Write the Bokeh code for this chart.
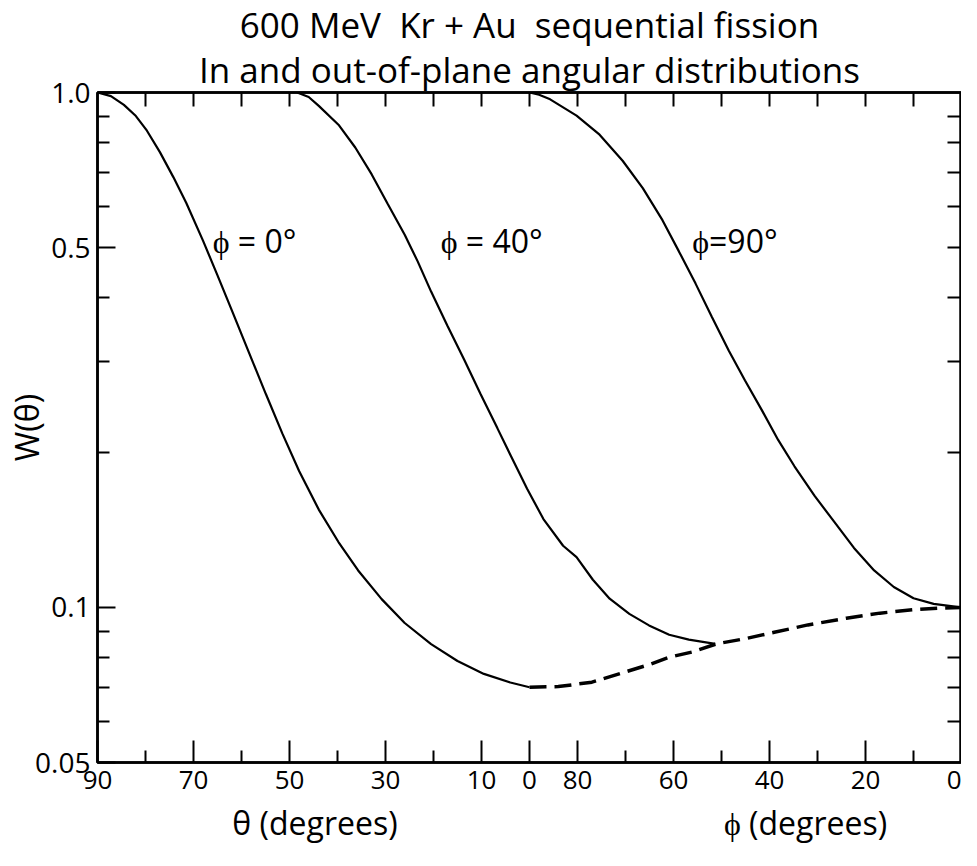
from bokeh.plotting import figure
from bokeh.models import Range1d, FixedTicker, LinearAxis, LogAxis, Title, Label
from bokeh.embed import file_html
from bokeh.resources import INLINE

FONT = "Open Sans"

# ---------------- data ----------------
# Abscissa: position (deg) along the combined axis: theta 90 -> 0, then phi 90 -> 0
x_tick_pos = [0, 20, 40, 60, 80, 90, 100, 120, 140, 160, 180]
x_tick_labels = ["90", "70", "50", "30", "10", "0", "80", "60", "40", "20", "0"]
x_minor_pos = [10, 30, 50, 70, 110, 130, 150, 170]

y_tick_vals = [0.05, 0.1, 0.5, 1.0]
y_tick_labels = ["0.05", "0.1", "0.5", "1.0"]
y_minor_vals = [0.06, 0.07, 0.08, 0.09, 0.2, 0.3, 0.4, 0.6, 0.7, 0.8, 0.9]

axis_titles = ["\u03b8 (degrees)", "\u03d5 (degrees)"]
curve_names = ["\u03d5 = 0\u00b0", "\u03d5 = 40\u00b0", "\u03d5=90\u00b0"]

phi0_x = [0, 2.8, 5.5, 8.0, 10.3, 13.0, 15.8, 18.5, 22.0, 25.0, 28.2, 31.6, 35.1,
          38.5, 42.0, 46.1, 50.2, 54.3, 59.2, 64.0, 69.5, 75.0, 80.5, 86.0, 90.0]
phi0_w = [1.0, 0.984, 0.946, 0.900, 0.843, 0.766, 0.685, 0.610, 0.515, 0.4416,
          0.3733, 0.3119, 0.2594, 0.2178, 0.1841, 0.1549, 0.1340, 0.1180, 0.1038,
          0.0933, 0.0849, 0.0787, 0.0743, 0.0715, 0.0700]

phi40_x = [41.6, 44.0, 46.1, 50.2, 53.7, 57.1, 60.5, 64.0, 66.7, 69.5, 72.9, 76.4,
           79.8, 83.3, 86.0, 89.5, 92.9, 97.0, 99.8, 103.2, 106.7, 110.8, 114.9,
           119.1, 123.2, 128.7]
phi40_w = [1.0, 0.98, 0.942, 0.866, 0.782, 0.694, 0.6065, 0.5295, 0.470, 0.4106,
           0.3525, 0.3027, 0.2598, 0.2230, 0.198, 0.170, 0.1485, 0.1318, 0.1253,
           0.1132, 0.104, 0.0972, 0.0923, 0.0885, 0.0866, 0.085]

phi90_x = [90.0, 92.0, 94.3, 99.8, 104.6, 109.4, 113.6, 117.7, 121.1, 124.6, 128.0,
           131.5, 134.9, 138.4, 141.8, 145.2, 149.4, 153.5, 157.6, 161.8, 165.9,
           170.0, 174.2, 180.0]
phi90_w = [1.0, 0.99, 0.970, 0.902, 0.828, 0.737, 0.652, 0.565, 0.492, 0.4255,
           0.3664, 0.3155, 0.276, 0.2417, 0.2115, 0.188, 0.1647, 0.1466, 0.1305,
           0.118, 0.1096, 0.1042, 0.1016, 0.100]

inplane_x = [90, 96, 103, 109, 115, 119, 124, 129, 135, 141, 148, 156, 163, 170, 175, 180]
inplane_w = [0.070, 0.0702, 0.0716, 0.0745, 0.0775, 0.080, 0.082, 0.085, 0.087,
             0.0895, 0.0925, 0.0953, 0.0975, 0.099, 0.0997, 0.100]

# ---------------- figure ----------------
p = figure(width=961, height=850, x_range=Range1d(0, 180), y_range=Range1d(0.05, 1.0),
           y_axis_type="log", output_backend="svg", toolbar_location=None, title=None,
           min_border_left=97, min_border_right=0, min_border_top=92, min_border_bottom=88,
           background_fill_color="white", border_fill_color="white")
p.outline_line_color = "black"
p.outline_line_width = 2.5
p.xgrid.visible = False
p.ygrid.visible = False

xa = p.xaxis[0]
xa.ticker = FixedTicker(ticks=x_tick_pos, minor_ticks=x_minor_pos)
xa.major_label_overrides = dict(zip(x_tick_pos, x_tick_labels))
ya = p.yaxis[0]
ya.ticker = FixedTicker(ticks=y_tick_vals, minor_ticks=y_minor_vals)
ya.major_label_overrides = dict(zip(y_tick_vals, y_tick_labels))

for ax, maj, mnr in ((xa, 22, 12), (ya, 18, 12)):
    ax.major_tick_in = maj
    ax.major_tick_out = 0
    ax.minor_tick_in = mnr
    ax.minor_tick_out = 0
    ax.major_tick_line_width = 2
    ax.minor_tick_line_width = 2
    ax.axis_line_width = 2.5
    ax.major_label_text_font = FONT
    ax.major_label_text_color = "black"
xa.major_label_text_font_size = "26px"
xa.major_label_standoff = 8
ya.major_label_text_font_size = "28px"
ya.major_label_standoff = 7
ya.axis_label = "W(\u03b8)"
ya.axis_label_text_font = FONT
ya.axis_label_text_font_size = "32px"
ya.axis_label_text_font_style = "normal"
ya.axis_label_text_color = "black"
ya.axis_label_standoff = -16

ra = LogAxis(ticker=FixedTicker(ticks=[], minor_ticks=y_minor_vals + [0.1, 0.5]))
ta = LinearAxis(ticker=FixedTicker(ticks=[], minor_ticks=sorted(x_tick_pos[1:-1] + x_minor_pos)))
for ax in (ra, ta):
    ax.minor_tick_in = 14
    ax.minor_tick_out = 0
    ax.minor_tick_line_width = 2
    ax.axis_line_width = 2.5
    ax.major_label_standoff = 0
p.add_layout(ra, "right")
p.add_layout(ta, "above")

# second bottom axis carrying the two abscissa titles
title_axis = LinearAxis(ticker=FixedTicker(ticks=[45.3, 147.5], minor_ticks=[]))
title_axis.major_label_overrides = {45.3: axis_titles[0], 147.5: axis_titles[1]}
title_axis.axis_line_color = None
title_axis.major_tick_line_color = None
title_axis.minor_tick_line_color = None
title_axis.major_tick_in = 0
title_axis.major_tick_out = 0
title_axis.major_label_standoff = 9
title_axis.major_label_text_font = FONT
title_axis.major_label_text_font_size = "32px"
title_axis.major_label_text_color = "black"
p.add_layout(title_axis, "below")

p.add_layout(Title(text="In and out-of-plane angular distributions", align="center",
                   text_font=FONT, text_font_size="35px", text_font_style="normal",
                   text_color="black", standoff=0), "above")
p.add_layout(Title(text="600 MeV\u00a0\u00a0Kr + Au\u00a0\u00a0sequential fission", align="center",
                   text_font=FONT, text_font_size="35px", text_font_style="normal",
                   text_color="black", standoff=-8), "above")

# ---------------- curves ----------------
for xs, ws in ((phi0_x, phi0_w), (phi40_x, phi40_w), (phi90_x, phi90_w)):
    p.line(xs, ws, line_color="black", line_width=2.2)
p.line(inplane_x, inplane_w, line_color="black", line_width=3.5, line_dash="17 8")

# curve labels
for name, lx in zip(curve_names, (24.0, 71.5, 123.9)):
    p.add_layout(Label(x=lx, y=0.515, text=name, text_font=FONT, text_font_size="32px",
                       text_baseline="middle", text_align="left", text_color="black"))

open("out.html", "w").write(file_html(p, INLINE))
